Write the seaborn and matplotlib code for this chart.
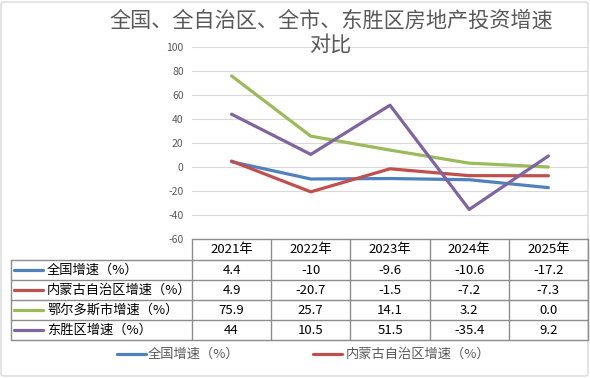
import matplotlib
matplotlib.use("Agg")
import matplotlib.pyplot as plt
from matplotlib.lines import Line2D
from matplotlib.patches import FancyBboxPatch
import seaborn as sns
import pandas as pd

# ---- data ----
years = ["2021年", "2022年", "2023年", "2024年", "2025年"]
series_names = ["全国增速（%）", "内蒙古自治区增速（%）", "鄂尔多斯市增速（%）", "东胜区增速（%）"]
national = [4.4, -10, -9.6, -10.6, -17.2]
region = [4.9, -20.7, -1.5, -7.2, -7.3]
city = [75.9, 25.7, 14.1, 3.2, 0.0]
dongsheng = [44, 10.5, 51.5, -35.4, 9.2]
yticks = [-60, -40, -20, 0, 20, 40, 60, 80, 100]
title_lines = ["全国、全自治区、全市、东胜区房地产投资增速", "对比"]

colors = ["#4F81BD", "#C0504D", "#9BBB59", "#8064A2"]
all_values = [national, region, city, dongsheng]

rows = []
for name, vals in zip(series_names, all_values):
    for i, (y, v) in enumerate(zip(years, vals)):
        rows.append({"year": y, "idx": i, "series": name, "value": v})
df = pd.DataFrame(rows)

sns.set_theme(style="white")
plt.rcParams["font.family"] = ["Noto Sans CJK SC", "DejaVu Sans"]
plt.rcParams["axes.unicode_minus"] = False

W, H = 590, 378
fig = plt.figure(figsize=(W / 100, H / 100), dpi=100)
fig.patch.set_facecolor("white")

def fx(x):
    return x / W

def fy(y):
    return 1 - y / H

# outer border
fig.add_artist(FancyBboxPatch((fx(1), fy(376)), fx(587), 374 / H,
                              boxstyle="round,pad=0,rounding_size=0.005",
                              transform=fig.transFigure, fill=False,
                              edgecolor="#D9D9D9", linewidth=1.0))

ax_left, ax_right, ax_top, ax_bottom = 192, 588, 47, 239
ax = fig.add_axes([fx(ax_left), fy(ax_bottom), fx(ax_right - ax_left), (ax_bottom - ax_top) / H])
ax.set_facecolor("none")

sns.lineplot(data=df, x="idx", y="value", hue="series", palette=colors,
             hue_order=series_names, ax=ax, linewidth=2.3, legend=False,
             sort=False)
for ln in ax.get_lines():
    ln.set_solid_capstyle("round")
    ln.set_solid_joinstyle("round")

ax.set_xlim(-0.5, len(years) - 0.5)
ax.set_ylim(-60, 100)
ax.set_yticks(yticks)
ax.set_yticklabels([str(t) for t in yticks], color="#595959", fontsize=7.5)
ax.set_xticks([])
ax.set_xlabel("")
ax.set_ylabel("")
ax.tick_params(axis="y", length=0, pad=6)
ax.grid(axis="y", color="#D9D9D9", linewidth=0.8)
ax.set_axisbelow(True)
for s in ax.spines.values():
    s.set_visible(False)

# title
fig.text(fx(331), fy(21), title_lines[0], ha="center", va="center",
         fontsize=15.2, color="#595959", fontweight="light")
fig.text(fx(330), fy(46), title_lines[1], ha="center", va="center",
         fontsize=15.2, color="#595959", fontweight="light")

# ---- data table ----
grid_c = "#8C8C8C"
tbl_left = 11
col_edges = [ax_left + (ax_right - ax_left) * k / len(years) for k in range(len(years) + 1)]
row_edges = [239, 260, 280, 300, 320, 340]

def hline(y, x0, x1):
    fig.add_artist(Line2D([fx(x0), fx(x1)], [fy(y), fy(y)], transform=fig.transFigure,
                          color=grid_c, linewidth=1.0))

def vline(x, y0, y1):
    fig.add_artist(Line2D([fx(x), fx(x)], [fy(y0), fy(y1)], transform=fig.transFigure,
                          color=grid_c, linewidth=1.0))

hline(row_edges[0], ax_left, ax_right)
for y in row_edges[1:]:
    hline(y, tbl_left, ax_right)
vline(tbl_left, row_edges[1], row_edges[-1])
for x in col_edges:
    vline(x, row_edges[0], row_edges[-1])

def fmt(v):
    return "0.0" if v == 0 else f"{v:g}"

tsize = 9.5
for j, yr in enumerate(years):
    cx = (col_edges[j] + col_edges[j + 1]) / 2
    fig.text(fx(cx), fy((row_edges[0] + row_edges[1]) / 2), yr, ha="center", va="center",
             fontsize=tsize, color="#000000")
for i, (name, vals, c) in enumerate(zip(series_names, all_values, colors)):
    cy = (row_edges[i + 1] + row_edges[i + 2]) / 2
    fig.add_artist(Line2D([fx(14), fx(43)], [fy(cy), fy(cy)], transform=fig.transFigure,
                          color=c, linewidth=2.3, solid_capstyle="round"))
    fig.text(fx(47), fy(cy), name, ha="left", va="center", fontsize=tsize, color="#000000")
    for j, v in enumerate(vals):
        cx = (col_edges[j] + col_edges[j + 1]) / 2
        fig.text(fx(cx), fy(cy), fmt(v), ha="center", va="center", fontsize=tsize, color="#000000")

# ---- bottom legend (first two entries visible) ----
leg_items = [(117, 146, 148), (313, 342, 346)]
for (x0, x1, tx), name, c in zip(leg_items, series_names[:2], colors[:2]):
    fig.add_artist(Line2D([fx(x0), fx(x1)], [fy(354), fy(354)], transform=fig.transFigure,
                          color=c, linewidth=2.3, solid_capstyle="round"))
    fig.text(fx(tx), fy(354), name, ha="left", va="center", fontsize=tsize, color="#595959")

fig.savefig("out.png", dpi=100, facecolor="white")
